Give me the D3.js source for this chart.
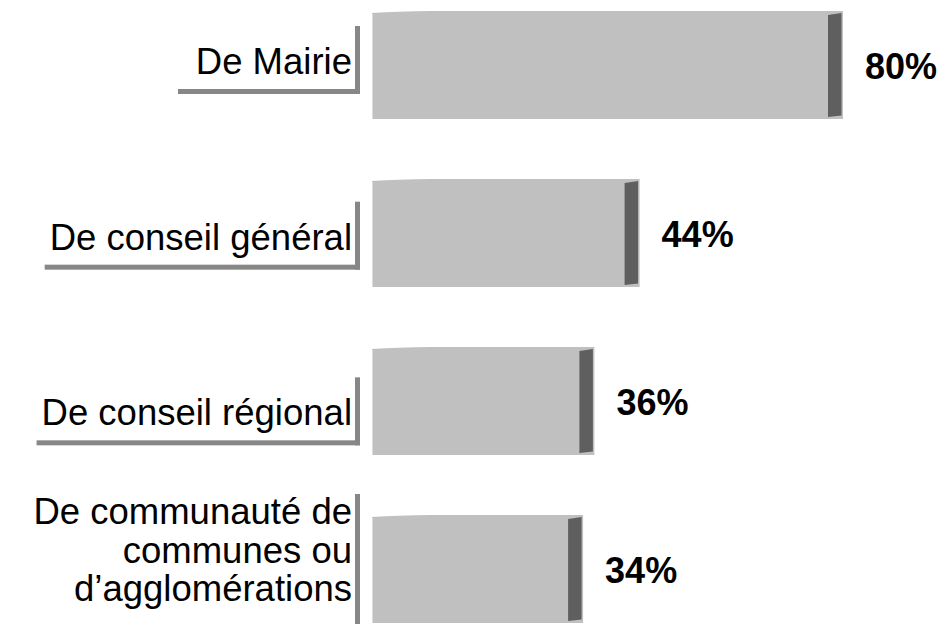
<!DOCTYPE html>
<html>
<head>
<meta charset="utf-8">
<script src="https://cdn.jsdelivr.net/npm/d3@7"></script>
<style>
  html, body { margin: 0; padding: 0; background: #ffffff; }
  svg { display: block; }
</style>
</head>
<body>
<svg id="chart" width="947" height="624"></svg>
<script>
// ---- data ----
const categories = ["De Mairie", "De conseil général", "De conseil régional", "De communauté de communes ou d\u2019agglomérations"];
const labelLines = [["De Mairie"], ["De conseil général"], ["De conseil régional"], ["De communauté de", "communes ou", "d\u2019agglomérations"]];
const values = [80, 44, 36, 34];
const valueLabels = ["80%", "44%", "36%", "34%"];

// ---- layout ----
const W = 947, H = 624;
const svg = d3.select("#chart");
const barLeft = 372;
const x = d3.scaleLinear().domain([0, 80]).range([391, 843]);
const y = d3.scaleBand().domain(categories).range([11, 623]).paddingInner(0.357).paddingOuter(0);
const labelY = d3.scalePoint().domain(categories).range([74, 601]); // last-line baseline
const lineH = 38.5;
const fontFamily = "'Liberation Sans', Arial, Helvetica, sans-serif";

// ---- bars ----
const bars = svg.append("g");
categories.forEach((c, i) => {
  const top = y(c), bot = y(c) + y.bandwidth(), right = x(values[i]);
  // main light bar with a subtly sloped top-left edge
  const p = d3.path();
  p.moveTo(barLeft, top + 2);
  p.quadraticCurveTo(barLeft + 25, top + 0.6, barLeft + 60, top);
  p.lineTo(right, top);
  p.lineTo(right, bot);
  p.lineTo(barLeft, bot);
  p.closePath();
  bars.append("path").attr("d", p.toString()).attr("fill", "#c0c0c0");
  // faint light left edge
  bars.append("line").attr("x1", barLeft + 0.5).attr("x2", barLeft + 0.5)
    .attr("y1", top + 3).attr("y2", bot).attr("stroke", "#dcdcdc").attr("stroke-width", 1);
  // dark side strip
  const sL = right - 15, sR = right - 1.5;
  bars.append("path")
    .attr("d", `M${sL},${top + 4} L${sR},${top + 2} L${sR},${bot - 3.5} L${sL},${bot - 2} Z`)
    .attr("fill", "#5f5f5f");
});

// ---- value labels ----
svg.append("g").selectAll("text").data(categories).join("text")
  .attr("x", (c, i) => x(values[i]) + 22)
  .attr("y", c => y(c) + y.bandwidth() / 2 + 14)
  .attr("font-family", fontFamily)
  .attr("font-size", 36)
  .attr("font-weight", "bold")
  .attr("fill", "#000")
  .text((c, i) => valueLabels[i]);

// ---- category labels with shadow box ----
const textRight = 352, shadowX = 357.5, minBoxW = 182;
const lg = svg.append("g");
categories.forEach((c, i) => {
  const lines = labelLines[i];
  const lastBase = labelY(c);
  const firstBase = lastBase - (lines.length - 1) * lineH;
  const t = lg.append("text")
    .attr("font-family", fontFamily)
    .attr("font-size", 36.5)
    .attr("fill", "#000")
    .attr("text-anchor", "end");
  lines.forEach((ln, k) => {
    t.append("tspan").attr("x", textRight).attr("y", firstBase + k * lineH).text(ln);
  });
  const bb = t.node().getBBox();
  const boxLeft = Math.min(bb.x - 5, 360 - minBoxW);
  const boxTop = firstBase - (lines.length > 1 ? 30 : 48);
  const boxBottom = lastBase + (lines.length > 1 ? 36 : 20);
  lg.append("rect").attr("x", shadowX - 2.5).attr("y", boxTop)
    .attr("width", 5).attr("height", boxBottom - boxTop).attr("fill", "#878787");
  lg.append("rect").attr("x", boxLeft).attr("y", boxBottom - 5)
    .attr("width", 360 - boxLeft).attr("height", 5).attr("fill", "#878787");
});
</script>
</body>
</html>
